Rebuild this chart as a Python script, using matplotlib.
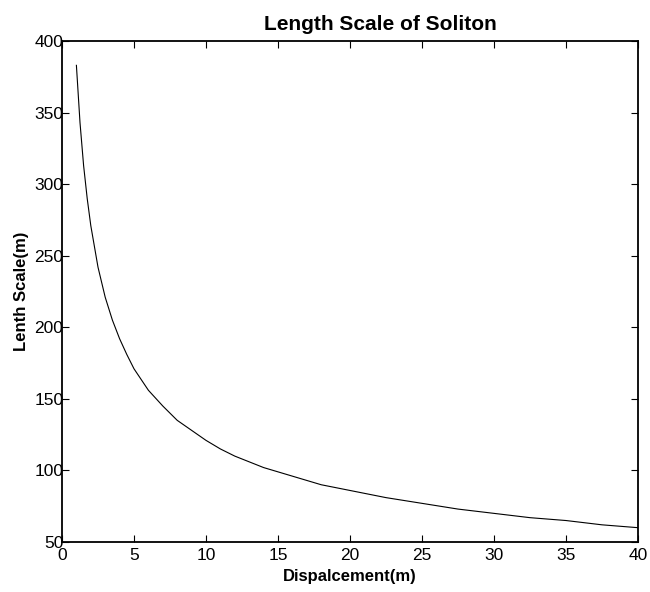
import matplotlib
matplotlib.use("Agg")
import matplotlib.pyplot as plt

# values
displacement = [1.0, 1.25, 1.5, 1.75, 2, 2.5, 3, 3.5, 4, 4.5, 5, 6, 7, 8, 9, 10, 11, 12,
                14, 16, 18, 20, 22.5, 25, 27.5, 30, 32.5, 35, 37.5, 40]
length_scale = [383, 343, 313, 290, 271, 242, 221, 205, 192, 181, 171, 156, 145, 135, 128,
                121, 115, 110, 102, 96, 90, 86, 81, 77, 73, 70, 67, 65, 62, 60]

xticks = [0, 5, 10, 15, 20, 25, 30, 35, 40]
yticks = [50, 100, 150, 200, 250, 300, 350, 400]

plt.rcParams['font.family'] = ['Liberation Sans', 'DejaVu Sans']

fig = plt.figure(figsize=(6.5, 5.92), dpi=100)
ax = fig.add_axes([62 / 650, 1 - 542 / 592, 576 / 650, 501 / 592])

ax.plot(displacement, length_scale, color='black', linewidth=0.8)

ax.set_xlim(0, 40)
ax.set_ylim(50, 400)
ax.set_xticks(xticks)
ax.set_yticks(yticks)
ax.tick_params(direction='in', length=5, width=0.8, labelsize=12.5,
               top=True, right=True)
ax.tick_params(axis='x', pad=4)
ax.tick_params(axis='y', pad=-1)
for s in ax.spines.values():
    s.set_linewidth(1.3)

ax.set_xlabel('Dispalcement(m)', fontsize=12, fontweight='bold', labelpad=5)
ax.set_ylabel('Lenth Scale(m)', fontsize=12, fontweight='bold', labelpad=4)
fig.text(380 / 650, 1 - 30 / 592, 'Length Scale of Soliton', fontsize=15,
         fontweight='bold', ha='center', va='baseline')

fig.savefig('out.png', dpi=100)
